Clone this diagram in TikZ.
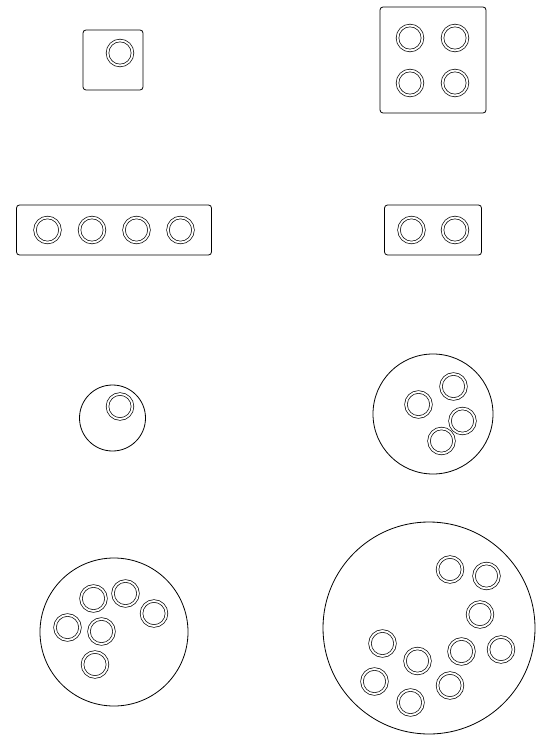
\documentclass[tikz,border=0pt]{standalone}
\usepackage{tikz}

\begin{document}
\begin{tikzpicture}[x=1pt,y=-1pt,plate/.style={draw,rectangle,rounded corners=3pt,line width=0.8pt,inner sep=0pt},dish/.style={draw,circle,line width=0.8pt,inner sep=0pt,minimum size=#1},ring/.style={draw,circle,line width=0.7pt,double,double distance=1.9pt,inner sep=0pt,minimum size=25pt}]
\useasboundingbox (0,0) rectangle (535,738);
% square and strip plates
\node[plate,minimum width=60pt,minimum height=60pt] (p1) at (113,60) {};
\node[plate,minimum width=106pt,minimum height=106pt] (p4) at (433,60) {};
\node[plate,minimum width=195pt,minimum height=50pt] (s4) at (114,230) {};
\node[plate,minimum width=97pt,minimum height=50pt] (s2) at (433,230) {};
\node[ring] (p1r1) at (120,53) {};
\foreach \x/\y [count=\i] in %
{410/38,455/38,410/83,455/83} {
   \node[ring] (p4r\i) at (\x,\y) {};
}
\foreach \x [count=\i] in {47.5,92,136.5,180.5} {
   \node[ring] (s4r\i) at (\x,230) {};
}
\foreach \x [count=\i] in {411.5,455} {
   \node[ring] (s2r\i) at (\x,230) {};
}
% round dishes
\node[dish=66pt] (d1) at (112.5,418) {};
\node[dish=120pt] (d4) at (433,414) {};
\node[dish=148pt] (d6) at (114,632) {};
\node[dish=212pt] (d10) at (429,628) {};
\node[ring] (d1r1) at (120,406.5) {};
\foreach \x/\y [count=\i] in %
{418.5/404.5,453.5/386.5,462.5/421,441.5/441} {
   \node[ring] (d4r\i) at (\x,\y) {};
}
\foreach \x/\y [count=\i] in %
{93.5/598.5,125.5/593.5,154/613.5,67.5/627.5,101.5/631.5,95/664.5} {
   \node[ring] (d6r\i) at (\x,\y) {};
}
\foreach \x/\y [count=\i] in %
{450/569.5,486.5/576,480/614.5,382.5/643.5,461.5/651.5,501/649.5,417.5/661,374.5/681.5,450/685.5,410.5/702.5} {
   \node[ring] (d10r\i) at (\x,\y) {};
}
\end{tikzpicture}
\end{document}
